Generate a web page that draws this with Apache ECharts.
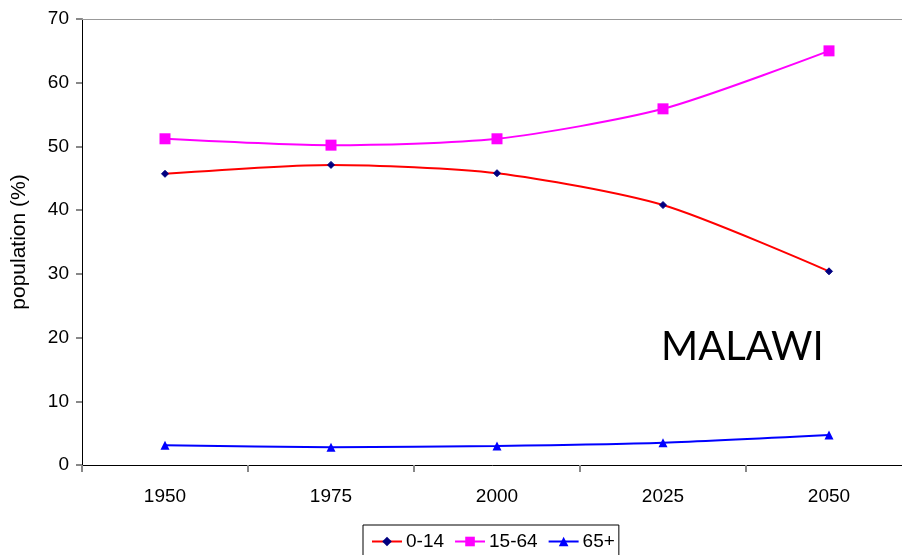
<!DOCTYPE html>
<html><head><meta charset="utf-8">
<script src="https://cdn.jsdelivr.net/npm/echarts@6/dist/echarts.min.js"></script>
<style>html,body{margin:0;padding:0;background:#fff;overflow:hidden}#c{width:902px;height:555px}</style>
</head><body><div id="c"></div>
<script>
const years = ['1950','1975','2000','2025','2050'];
const age0_14 = [45.7, 47.1, 45.8, 40.8, 30.4];
const age15_64 = [51.2, 50.2, 51.2, 55.9, 65.0];
const age65p = [3.1, 2.8, 3.0, 3.5, 4.7];
const yTicks = [0, 10, 20, 30, 40, 50, 60, 70];

const chart = echarts.init(document.getElementById('c'));
const F = 'Liberation Sans, Arial, sans-serif';
chart.setOption({
  animation: false,
  grid: {left: 82, width: 830, top: 19, height: 446, containLabel: false, outerBoundsMode: 'none'},
  xAxis: [{
    type: 'category', data: years, boundaryGap: true, position: 'bottom',
    axisLine: {lineStyle: {color: '#000', width: 1}},
    axisTick: {show: true, alignWithLabel: false, length: 7, lineStyle: {color: '#888', width: 2}},
    axisLabel: {color: '#000', fontFamily: F, fontSize: 19, margin: 22},
    splitLine: {show: false}
  }, {
    type: 'category', data: years, position: 'top',
    axisLine: {show: true, lineStyle: {color: '#999', width: 1}},
    axisTick: {show: false}, axisLabel: {show: false}
  }],
  yAxis: {
    type: 'value', min: yTicks[0], max: yTicks[yTicks.length-1], interval: 10,
    name: 'population (%)', nameLocation: 'middle', nameGap: 52, nameRotate: 90,
    nameTextStyle: {fontFamily: F, fontSize: 21, color: '#000'},
    axisLine: {show: true, lineStyle: {color: '#000'}},
    axisTick: {show: true, inside: false, length: 6, lineStyle: {color: '#888', width: 2}},
    axisLabel: {color: '#000', fontFamily: F, fontSize: 19, margin: 13},
    splitLine: {show: false}
  },
  legend: {
    bottom: -6, left: 363, itemGap: 10, itemWidth: 30, itemHeight: 12,
    padding: [7, 4, 10, 8], borderColor: '#000', borderWidth: 1,
    textStyle: {fontFamily: F, fontSize: 19, color: '#000', padding: [0, 0, 0, -1]},
    data: ['0-14', '15-64', '65+']
  },
  graphic: [{
    type: 'text', left: 661, top: 327,
    style: {text: 'MALAWI', font: '40px Lato, "Noto Sans", sans-serif', fill: '#000'}
  }],
  series: [
    {name: '0-14', type: 'line', data: age0_14, smooth: 0.25,
     lineStyle: {color: '#ff0000', width: 2}, itemStyle: {color: '#000080', borderColor: '#000080'},
     color: '#ff0000', symbol: 'diamond', symbolSize: 7},
    {name: '15-64', type: 'line', data: age15_64, smooth: 0.25,
     lineStyle: {color: '#ff00ff', width: 2}, itemStyle: {color: '#ff00ff'},
     symbol: 'rect', symbolSize: 11},
    {name: '65+', type: 'line', data: age65p, smooth: 0.25,
     lineStyle: {color: '#0000ff', width: 2}, itemStyle: {color: '#0000ff'},
     symbol: 'triangle', symbolSize: 9}
  ]
});
</script></body></html>
